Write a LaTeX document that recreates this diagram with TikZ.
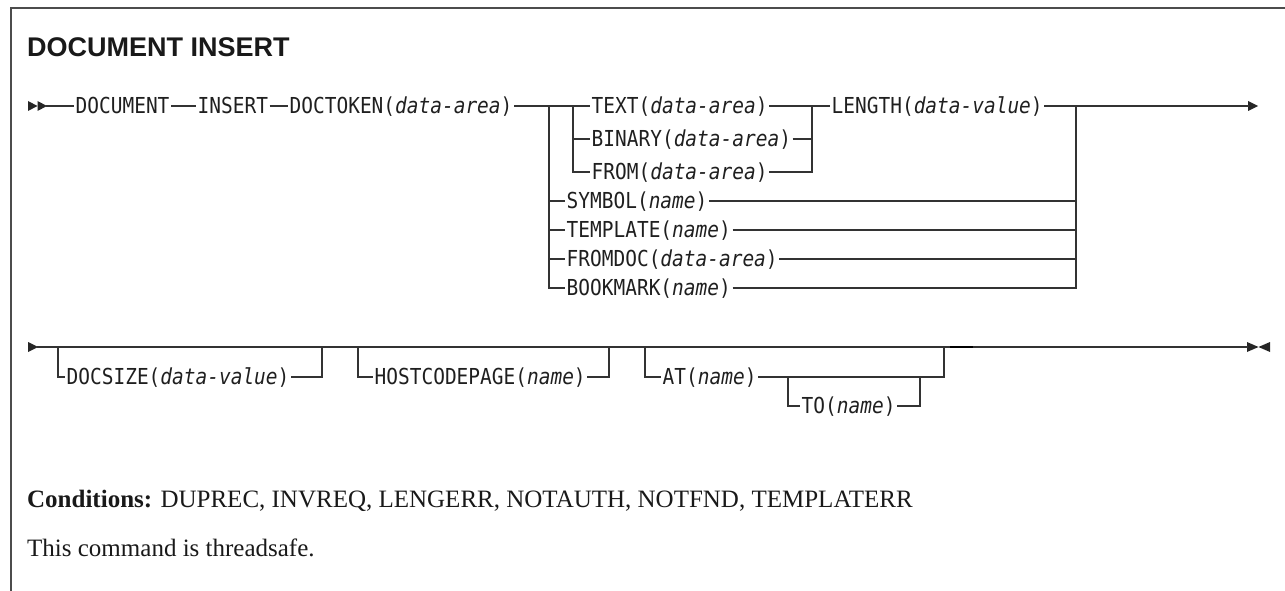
\documentclass[tikz,border=0pt]{standalone}
\usepackage{fontspec}
\setmainfont{Liberation Serif}
\newfontfamily\titlefont{Liberation Sans}
\newfontfamily\synfont[FakeStretch=0.885]{DejaVu Sans Mono}
\newcommand\va[1]{\textit{#1}}
\begin{document}
\begin{tikzpicture}[x=1bp,y=-1bp,
  syn/.style={font=\synfont\fontsize{22bp}{25bp}\selectfont, inner xsep=1.5bp, inner ysep=0pt,
              text height=16.5bp, text depth=1bp, anchor=west, text=black!88},
  ln/.style={draw=black!80, line width=1.3bp},
  tri/.style={fill=black!85, draw=none},
  prose/.style={anchor=base west, inner sep=0pt, font=\fontsize{25bp}{29bp}\selectfont, text=black!90}]
\useasboundingbox (0,0) rectangle (1285,591);
% frame
\draw[draw=black!70, line width=1.6bp] (11,591) -- (11,8) -- (1285,8);
% title
\node[anchor=base west, inner sep=0, font=\titlefont\bfseries\fontsize{27bp}{30bp}\selectfont, text=black!90] (title) at (27,57) {DOCUMENT INSERT};

% ---------- row 1 ----------
\fill[tri] (28,101) -- (37.5,106) -- (28,111) -- cycle;
\fill[tri] (37.5,101) -- (47,106) -- (37.5,111) -- cycle;
\coordinate (a1) at (46,106);
\node[syn] (doc) at (74,106) {DOCUMENT};
\node[syn] (ins) at (196,106) {INSERT};
\node[syn] (tok) at (288,106) {DOCTOKEN(\va{data-area})};
\node[syn] (txt) at (590,106) {TEXT(\va{data-area})};
\node[syn] (bin) at (590,139) {BINARY(\va{data-area})};
\node[syn] (frm) at (590,172) {FROM(\va{data-area})};
\node[syn] (len) at (830,106) {LENGTH(\va{data-value})};
\node[syn] (sym) at (565,201) {SYMBOL(\va{name})};
\node[syn] (tpl) at (565,230) {TEMPLATE(\va{name})};
\node[syn] (fdc) at (565,259) {FROMDOC(\va{data-area})};
\node[syn] (bkm) at (565,288) {BOOKMARK(\va{name})};
\coordinate (o1) at (549,106);
\coordinate (i1) at (573,106);
\coordinate (i2) at (812,106);
\coordinate (o2) at (1076,106);
\coordinate (e1) at (1249,106);
\fill[tri] (1248,101) -- (1258,106) -- (1248,111) -- cycle;

\draw[ln] (a1) -- (doc.west);
\draw[ln] (doc) -- (ins);
\draw[ln] (ins) -- (tok);
\draw[ln] (tok) -- (txt);
\draw[ln] (txt) -- (len);
\draw[ln] (len.east) -- (e1);
% outer choice
\draw[ln] (o1) |- (bkm.west);
\draw[ln] (o1 |- sym) -- (sym.west);
\draw[ln] (o1 |- tpl) -- (tpl.west);
\draw[ln] (o1 |- fdc) -- (fdc.west);
\draw[ln] (sym.east) -- (o2 |- sym);
\draw[ln] (tpl.east) -- (o2 |- tpl);
\draw[ln] (fdc.east) -- (o2 |- fdc);
\draw[ln] (bkm.east) -| (o2);
% inner choice
\draw[ln] (i1) |- (frm.west);
\draw[ln] (i1 |- bin) -- (bin.west);
\draw[ln] (bin.east) -- (i2 |- bin);
\draw[ln] (frm.east) -| (i2);

% ---------- row 2 ----------
\fill[tri] (28,342) -- (38,347) -- (28,352) -- cycle;
\coordinate (a2) at (37,347);
\coordinate (e2) at (1248,347);
\fill[tri] (1247,342) -- (1258.5,347) -- (1247,352) -- cycle;
\fill[tri] (1270,342) -- (1258.5,347) -- (1270,352) -- cycle;
\node[syn] (dsz) at (65,377) {DOCSIZE(\va{data-value})};
\node[syn] (hcp) at (373,377) {HOSTCODEPAGE(\va{name})};
\node[syn] (at) at (661,377) {AT(\va{name})};
\node[syn] (to) at (800,406) {TO(\va{name})};
\coordinate (d1) at (58,347);  \coordinate (d2) at (322,347);
\coordinate (h1) at (358,347); \coordinate (h2) at (609,347);
\coordinate (t1) at (645,347); \coordinate (t2) at (944,347);
\coordinate (u1) at (788,377); \coordinate (u2) at (920,377);
\draw[ln] (a2) -- (e2);
\draw[ln] (d1) |- (dsz.west);
\draw[ln] (dsz.east) -| (d2);
\draw[ln] (h1) |- (hcp.west);
\draw[ln] (hcp.east) -| (h2);
\draw[ln] (t1) |- (at.west);
\draw[ln] (at.east) -| (t2);
\draw[ln] (u1) |- (to.west);
\draw[ln] (to.east) -| (u2);
\draw[draw=black, line width=2.2bp] (950,347) -- (973,347);

% ---------- texts ----------
\node[prose] (cond) at (27,507)
  {\textbf{Conditions:} DUPREC, INVREQ, LENGERR, NOTAUTH, NOTFND, TEMPLATERR};
\node[prose] (safe) at (27,556)
  {This command is threadsafe.};
\end{tikzpicture}
\end{document}
